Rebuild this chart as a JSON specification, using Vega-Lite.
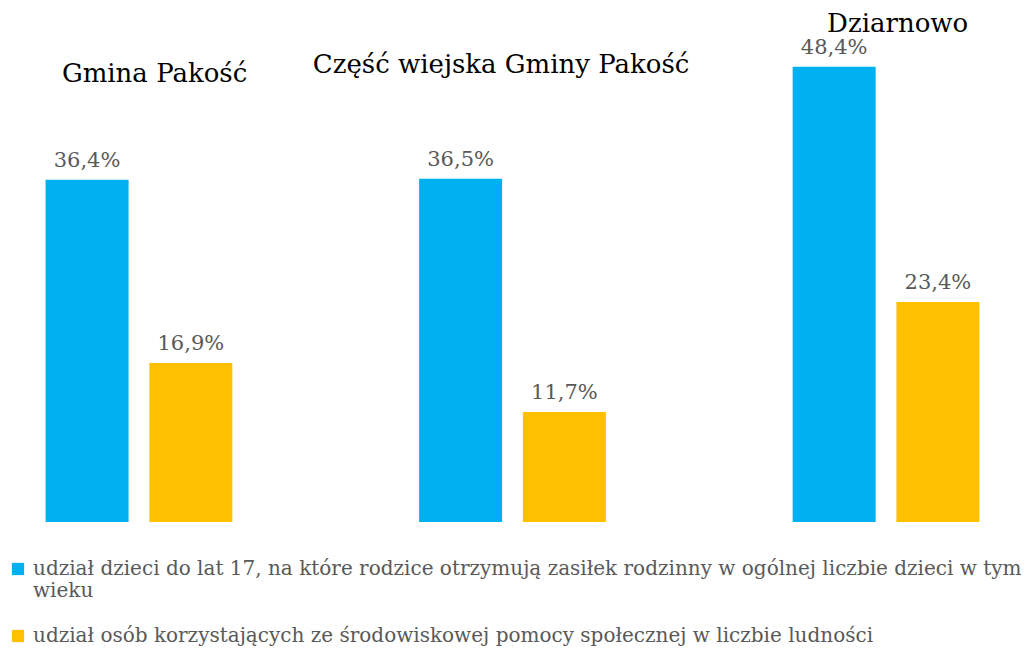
{
  "$schema": "https://vega.github.io/schema/vega-lite/v6.json",
  "width": 1025,
  "height": 522,
  "autosize": {"type": "none"},
  "padding": {"left": 0, "top": 0, "right": 0, "bottom": 128},
  "background": "white",
  "config": {
    "view": {"stroke": null},
    "font": "DejaVu Serif"
  },
  "data": {
    "values": [
      {"group": "Gmina Pakość", "series": "udział dzieci do lat 17, na które rodzice otrzymują zasiłek rodzinny w ogólnej liczbie dzieci w tym wieku", "value": 36.4},
      {"group": "Gmina Pakość", "series": "udział osób korzystających ze środowiskowej pomocy społecznej w liczbie ludności", "value": 16.9},
      {"group": "Część wiejska Gminy Pakość", "series": "udział dzieci do lat 17, na które rodzice otrzymują zasiłek rodzinny w ogólnej liczbie dzieci w tym wieku", "value": 36.5},
      {"group": "Część wiejska Gminy Pakość", "series": "udział osób korzystających ze środowiskowej pomocy społecznej w liczbie ludności", "value": 11.7},
      {"group": "Dziarnowo", "series": "udział dzieci do lat 17, na które rodzice otrzymują zasiłek rodzinny w ogólnej liczbie dzieci w tym wieku", "value": 48.4},
      {"group": "Dziarnowo", "series": "udział osób korzystających ze środowiskowej pomocy społecznej w liczbie ludności", "value": 23.4}
    ]
  },
  "encoding": {
    "x": {
      "field": "group", "type": "nominal",
      "sort": ["Gmina Pakość", "Część wiejska Gminy Pakość", "Dziarnowo"],
      "scale": {"paddingInner": 0.5, "paddingOuter": 0.122},
      "axis": null
    },
    "xOffset": {
      "field": "series", "type": "nominal",
      "scale": {"paddingInner": 0.2, "paddingOuter": 0}
    },
    "y": {
      "field": "value", "type": "quantitative",
      "scale": {"domain": [0, 55.5], "nice": false, "zero": true},
      "axis": null
    }
  },
  "layer": [
    {
      "mark": {"type": "bar"},
      "encoding": {
        "color": {
          "field": "series", "type": "nominal",
          "scale": {"range": ["#00B0F0", "#FFC000"]},
          "legend": {
            "orient": "none",
            "legendX": 8,
            "legendY": 559,
            "direction": "vertical",
            "title": null,
            "symbolType": "square",
            "symbolSize": 150,
            "symbolStrokeWidth": 0,
            "symbolOpacity": 1,
            "labelFont": "DejaVu Serif",
            "labelFontSize": 20,
            "labelColor": "#595959",
            "labelLimit": 1100,
            "labelOffset": 5,
            "rowPadding": 25,
            "labelExpr": "datum.label == 'udział dzieci do lat 17, na które rodzice otrzymują zasiłek rodzinny w ogólnej liczbie dzieci w tym wieku' ? ['udział dzieci do lat 17, na które rodzice otrzymują zasiłek rodzinny w ogólnej liczbie dzieci w tym', 'wieku'] : datum.label"
          }
        }
      }
    },
    {
      "transform": [
        {"calculate": "replace(format(datum.value, '.1f'), '.', ',') + '%'", "as": "label"}
      ],
      "mark": {"type": "text", "baseline": "bottom", "dy": -9, "fontSize": 21, "color": "#595959", "font": "DejaVu Serif"},
      "encoding": {"text": {"field": "label"}}
    },
    {
      "transform": [{"filter": "datum.group == 'Gmina Pakość' && datum.value > 20"}],
      "mark": {"type": "text", "baseline": "middle", "fontSize": 26, "color": "black", "font": "DejaVu Serif"},
      "encoding": {"text": {"field": "group"}, "xOffset": {"value": 109}, "y": {"datum": 47.6}}
    },
    {
      "transform": [{"filter": "datum.group == 'Część wiejska Gminy Pakość' && datum.value > 20"}],
      "mark": {"type": "text", "baseline": "middle", "fontSize": 26, "color": "black", "font": "DejaVu Serif"},
      "encoding": {"text": {"field": "group"}, "xOffset": {"value": 82}, "y": {"datum": 48.6}}
    },
    {
      "transform": [{"filter": "datum.group == 'Dziarnowo' && datum.value > 30"}],
      "mark": {"type": "text", "baseline": "middle", "fontSize": 26, "color": "black", "font": "DejaVu Serif"},
      "encoding": {"text": {"field": "group"}, "xOffset": {"value": 105}, "y": {"datum": 52.9}}
    }
  ]
}
